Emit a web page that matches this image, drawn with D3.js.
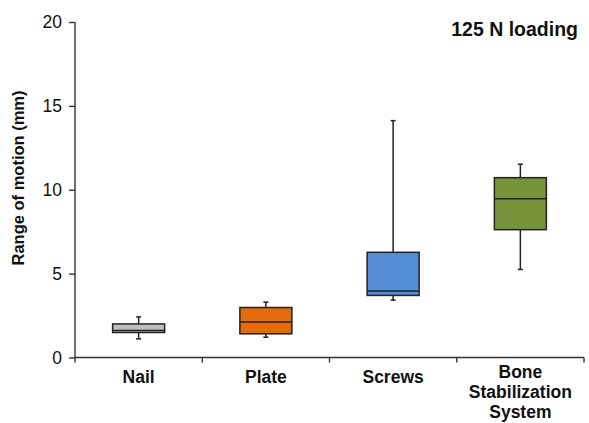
<!DOCTYPE html>
<html>
<head>
<meta charset="utf-8">
<script src="https://cdn.jsdelivr.net/npm/d3@7"></script>
<style>
  body { margin: 0; background: #fff; }
  text { font-family: "Liberation Sans", Arial, sans-serif; }
</style>
</head>
<body>
<script>
// box plot, range of motion under 125 N

var categories = ["Nail", "Plate", "Screws", "Bone Stabilization System"];
var labelLines = [["Nail"], ["Plate"], ["Screws"], ["Bone", "Stabilization", "System"]];
var whiskerLow  = [1.11, 1.21, 3.42, 5.25];
var boxLow      = [1.49, 1.41, 3.70, 7.62];
var medians     = [1.61, 2.11, 3.96, 9.47];
var boxHigh     = [2.00, 2.98, 6.27, 10.72];
var whiskerHigh = [2.42, 3.30, 14.12, 11.52];
var colors = ["#bfbfbf", "#e46c0a", "#558ed5", "#77933c"];
var yTicks = [0, 5, 10, 15, 20];

var width = 589, height = 423;
var plotLeft = 75, plotRight = 584, plotTop = 22, plotBottom = 357.5;

var svg = d3.select("body").append("svg")
    .attr("width", width)
    .attr("height", height);

var x = d3.scaleBand()
    .domain(categories)
    .range([plotLeft, plotRight]);

var y = d3.scaleLinear()
    .domain([0, 20])
    .range([plotBottom, plotTop]);

var boxW = 52, capW = 5;

var data = categories.map(function(c, i){
  return {cat: c, lines: labelLines[i], lo: whiskerLow[i], q1: boxLow[i], med: medians[i],
          q3: boxHigh[i], hi: whiskerHigh[i], color: colors[i]};
});

// y axis
var yAxis = svg.append("g")
    .attr("transform", "translate(" + plotLeft + ",0)")
    .call(d3.axisLeft(y).tickValues(yTicks).tickSize(6).tickPadding(7));
yAxis.select(".domain").attr("d", "M0," + plotTop + "V" + (plotBottom + 5));
yAxis.selectAll("path, line").attr("stroke", "#333").attr("stroke-width", 1.4);
yAxis.selectAll("text").attr("fill", "#111").style("font-size", "17.5px")
    .style("font-family", "'Liberation Sans', Arial, sans-serif");

// x axis line with ticks at band edges
var edges = categories.map(function(c){ return x(c); }).concat([plotRight]);
svg.append("line")
    .attr("x1", plotLeft).attr("x2", plotRight)
    .attr("y1", plotBottom).attr("y2", plotBottom)
    .attr("stroke", "#333").attr("stroke-width", 1.4);
svg.selectAll(".xtick").data(edges.slice(1)).enter().append("line")
    .attr("x1", function(d){ return d; }).attr("x2", function(d){ return d; })
    .attr("y1", plotBottom).attr("y2", plotBottom + 5)
    .attr("stroke", "#333").attr("stroke-width", 1.4);

// category labels
var labels = svg.selectAll(".cat").data(data).enter().append("text")
    .attr("class", "cat")
    .attr("text-anchor", "middle")
    .attr("font-weight", "bold")
    .style("font-size", "17.5px")
    .attr("fill", "#111")
    .attr("y", function(d){ return d.lines.length > 1 ? 378 : 383; });
labels.selectAll("tspan").data(function(d){ return d.lines.map(function(l){ return {l: l, cx: x(d.cat) + x.bandwidth() / 2}; }); })
  .enter().append("tspan")
    .attr("x", function(d){ return d.cx; })
    .attr("dy", function(d, i){ return i === 0 ? 0 : 20; })
    .text(function(d){ return d.l; });

// boxes
var g = svg.selectAll(".box").data(data).enter().append("g")
    .attr("transform", function(d){ return "translate(" + (x(d.cat) + x.bandwidth() / 2) + ",0)"; });

g.append("line")
    .attr("x1", 0).attr("x2", 0)
    .attr("y1", function(d){ return y(d.hi); })
    .attr("y2", function(d){ return y(d.lo); })
    .attr("stroke", "#222").attr("stroke-width", 1.5);
g.append("line")
    .attr("x1", -capW / 2).attr("x2", capW / 2)
    .attr("y1", function(d){ return y(d.hi); })
    .attr("y2", function(d){ return y(d.hi); })
    .attr("stroke", "#222").attr("stroke-width", 1.5);
g.append("line")
    .attr("x1", -capW / 2).attr("x2", capW / 2)
    .attr("y1", function(d){ return y(d.lo); })
    .attr("y2", function(d){ return y(d.lo); })
    .attr("stroke", "#222").attr("stroke-width", 1.5);
g.append("rect")
    .attr("x", -boxW / 2).attr("width", boxW)
    .attr("y", function(d){ return y(d.q3); })
    .attr("height", function(d){ return y(d.q1) - y(d.q3); })
    .attr("fill", function(d){ return d.color; })
    .attr("stroke", "#222").attr("stroke-width", 1.5);
g.append("line")
    .attr("x1", -boxW / 2).attr("x2", boxW / 2)
    .attr("y1", function(d){ return y(d.med); })
    .attr("y2", function(d){ return y(d.med); })
    .attr("stroke", "#222").attr("stroke-width", 1.5);

// y title
svg.append("text")
    .attr("transform", "translate(24,178) rotate(-90)")
    .attr("text-anchor", "middle")
    .attr("font-weight", "bold")
    .style("font-size", "16.5px")
    .attr("fill", "#111")
    .text("Range of motion (mm)");

// corner title
svg.append("text")
    .attr("x", 578).attr("y", 36)
    .attr("text-anchor", "end")
    .attr("font-weight", "bold")
    .style("font-size", "19.5px")
    .attr("fill", "#111")
    .text("125 N loading");
</script>
</body>
</html>
